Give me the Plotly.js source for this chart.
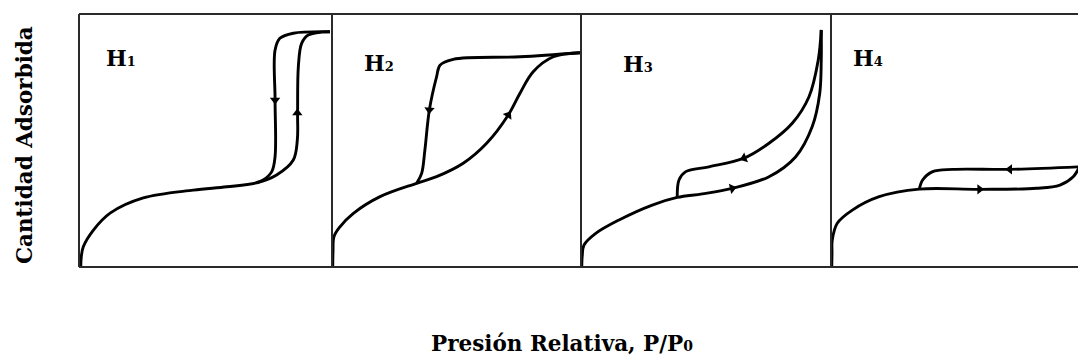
<!DOCTYPE html>
<html><head><meta charset="utf-8">
<script src="https://cdn.plot.ly/plotly-3.0.1.min.js"></script>
<style>html,body{margin:0;padding:0;background:#fff}</style>
</head><body><div id="chart" style="width:1078px;height:360px"></div>
<script>
// Panel labels (IUPAC hysteresis types)
const panelNames = ['1', '2', '3', '4'];
const xTitle = 'Presión Relativa, P/P';
const xTitleSub = '0';
const yTitle = 'Cantidad Adsorbida';

// H1: adsorption (incl. common low-pressure part) and desorption branches, relative pressure vs amount
const h1AdsX = [0.007, 0.009, 0.017, 0.057, 0.123, 0.254, 0.452, 0.584, 0.702, 0.781, 0.847, 0.863, 0.864, 0.867, 0.880, 0.906, 0.992];
const h1AdsY = [0.000, 0.040, 0.080, 0.146, 0.213, 0.273, 0.304, 0.317, 0.333, 0.364, 0.423, 0.502, 0.609, 0.792, 0.884, 0.917, 0.930];
const h1DesX = [0.702, 0.728, 0.762, 0.775, 0.775, 0.775, 0.794, 0.847, 0.992];
const h1DesY = [0.333, 0.344, 0.377, 0.436, 0.660, 0.858, 0.904, 0.924, 0.930];

// H2
const h2AdsX = [0.003, 0.004, 0.008, 0.032, 0.086, 0.193, 0.340, 0.420, 0.527, 0.621, 0.708, 0.755, 0.808, 0.889, 0.996];
const h2AdsY = [0.000, 0.060, 0.120, 0.159, 0.212, 0.278, 0.331, 0.357, 0.410, 0.489, 0.601, 0.687, 0.772, 0.831, 0.847];
const h2DesX = [0.340, 0.360, 0.373, 0.391, 0.420, 0.434, 0.487, 0.755, 0.996];
const h2DesY = [0.331, 0.370, 0.462, 0.621, 0.752, 0.798, 0.821, 0.831, 0.847];

// H3
const h3AdsX = [0.003, 0.005, 0.012, 0.059, 0.152, 0.285, 0.385, 0.485, 0.605, 0.752, 0.859, 0.925, 0.955, 0.961, 0.961];
const h3AdsY = [0.000, 0.045, 0.087, 0.133, 0.186, 0.245, 0.275, 0.289, 0.311, 0.357, 0.436, 0.555, 0.687, 0.818, 0.937];
const h3DesX = [0.385, 0.392, 0.419, 0.512, 0.652, 0.752, 0.845, 0.912, 0.949, 0.961];
const h3DesY = [0.275, 0.344, 0.377, 0.396, 0.430, 0.489, 0.568, 0.673, 0.818, 0.937];

// H4
const h4AdsX = [0.003, 0.004, 0.005, 0.025, 0.085, 0.192, 0.352, 0.592, 0.819, 0.912, 0.965, 0.990];
const h4AdsY = [0.000, 0.055, 0.107, 0.173, 0.225, 0.278, 0.308, 0.307, 0.311, 0.324, 0.357, 0.396];
const h4DesX = [0.352, 0.365, 0.405, 0.485, 0.712, 0.990];
const h4DesY = [0.308, 0.344, 0.377, 0.386, 0.386, 0.396];

// Direction arrows on branches
const h1ArrowX = [0.775, 0.863], h1ArrowY = [0.660, 0.609], h1ArrowAngle = [180, 0];
const h2ArrowX = [0.391, 0.708], h2ArrowY = [0.621, 0.601], h2ArrowAngle = [185, 33];
const h3ArrowX = [0.605, 0.652], h3ArrowY = [0.311, 0.430], h3ArrowAngle = [76, 249];
const h4ArrowX = [0.592, 0.712], h4ArrowY = [0.307, 0.386], h4ArrowAngle = [90, 270];

const panels = [
  {ax: [h1AdsX, h1AdsY], de: [h1DesX, h1DesY], ar: [h1ArrowX, h1ArrowY, h1ArrowAngle]},
  {ax: [h2AdsX, h2AdsY], de: [h2DesX, h2DesY], ar: [h2ArrowX, h2ArrowY, h2ArrowAngle]},
  {ax: [h3AdsX, h3AdsY], de: [h3DesX, h3DesY], ar: [h3ArrowX, h3ArrowY, h3ArrowAngle]},
  {ax: [h4AdsX, h4AdsY], de: [h4DesX, h4DesY], ar: [h4ArrowX, h4ArrowY, h4ArrowAngle]}
];

// layout geometry (paper fractions)
const bounds = [0, 0.25325, 0.50250, 0.75275, 1.0];
const xRanges = [[0, 1], [0, 1], [0, 1], [0, 0.984]];
const labelPos = [[0.025, 0.826], [0.283, 0.806], [0.5425, 0.802], [0.773, 0.826]];

const lineStyle = {color: '#000', width: 2.9, shape: 'spline', smoothing: 1};
const serif = 'DejaVu Serif, Liberation Serif, serif';

const traces = [];
const layout = {
  width: 1078, height: 360,
  margin: {l: 79, r: 0, t: 14, b: 93},
  paper_bgcolor: '#fff', plot_bgcolor: '#fff',
  showlegend: false,
  yaxis: {range: [0, 1], domain: [0, 1], visible: false, fixedrange: true},
  shapes: [], annotations: []
};

panels.forEach((p, i) => {
  const xa = i === 0 ? 'x' : 'x' + (i + 1);
  const key = i === 0 ? 'xaxis' : 'xaxis' + (i + 1);
  layout[key] = {domain: [bounds[i], bounds[i + 1]], range: xRanges[i], visible: false, anchor: 'y', fixedrange: true};
  traces.push({x: p.ax[0], y: p.ax[1], xaxis: xa, yaxis: 'y', mode: 'lines', line: lineStyle, hoverinfo: 'skip'});
  traces.push({x: p.de[0], y: p.de[1], xaxis: xa, yaxis: 'y', mode: 'lines', line: lineStyle, hoverinfo: 'skip'});
  traces.push({x: p.ar[0], y: p.ar[1], xaxis: xa, yaxis: 'y', mode: 'markers',
    marker: {symbol: 'triangle-up', size: 9, color: '#000', angle: p.ar[2], line: {width: 0}}, hoverinfo: 'skip'});
  layout.annotations.push({
    xref: 'paper', yref: 'paper', x: labelPos[i][0], y: labelPos[i][1], xanchor: 'left', yanchor: 'middle',
    showarrow: false, text: 'H<span style="font-size:13px">' + panelNames[i] + '</span>',
    font: {family: serif, size: 22, color: '#000', weight: 'bold'}
  });
});

const border = {color: '#2a2a2a', width: 2};
layout.shapes.push({type: 'line', xref: 'paper', yref: 'paper', x0: 0, x1: 1, y0: 1, y1: 1, line: border});
layout.shapes.push({type: 'line', xref: 'paper', yref: 'paper', x0: 0, x1: 1, y0: 0, y1: 0, line: border});
for (let i = 0; i < 4; i++) {
  layout.shapes.push({type: 'line', xref: 'paper', yref: 'paper', x0: bounds[i], x1: bounds[i], y0: 0, y1: 1, line: border});
}

layout.annotations.push({
  xref: 'paper', yref: 'paper', x: -0.055, y: 0.482, xanchor: 'center', yanchor: 'middle',
  textangle: -90, showarrow: false, text: yTitle,
  font: {family: serif, size: 21.5, color: '#000', weight: 'bold'}
});
layout.annotations.push({
  xref: 'paper', yref: 'paper', x: 0.483, y: -0.304, xanchor: 'center', yanchor: 'middle',
  showarrow: false, text: xTitle + '<span style="font-size:14px">' + xTitleSub + '</span>',
  font: {family: serif, size: 21.5, color: '#000', weight: 'bold'}
});

Plotly.newPlot('chart', traces, layout, {staticPlot: true, displayModeBar: false});
</script></body></html>
